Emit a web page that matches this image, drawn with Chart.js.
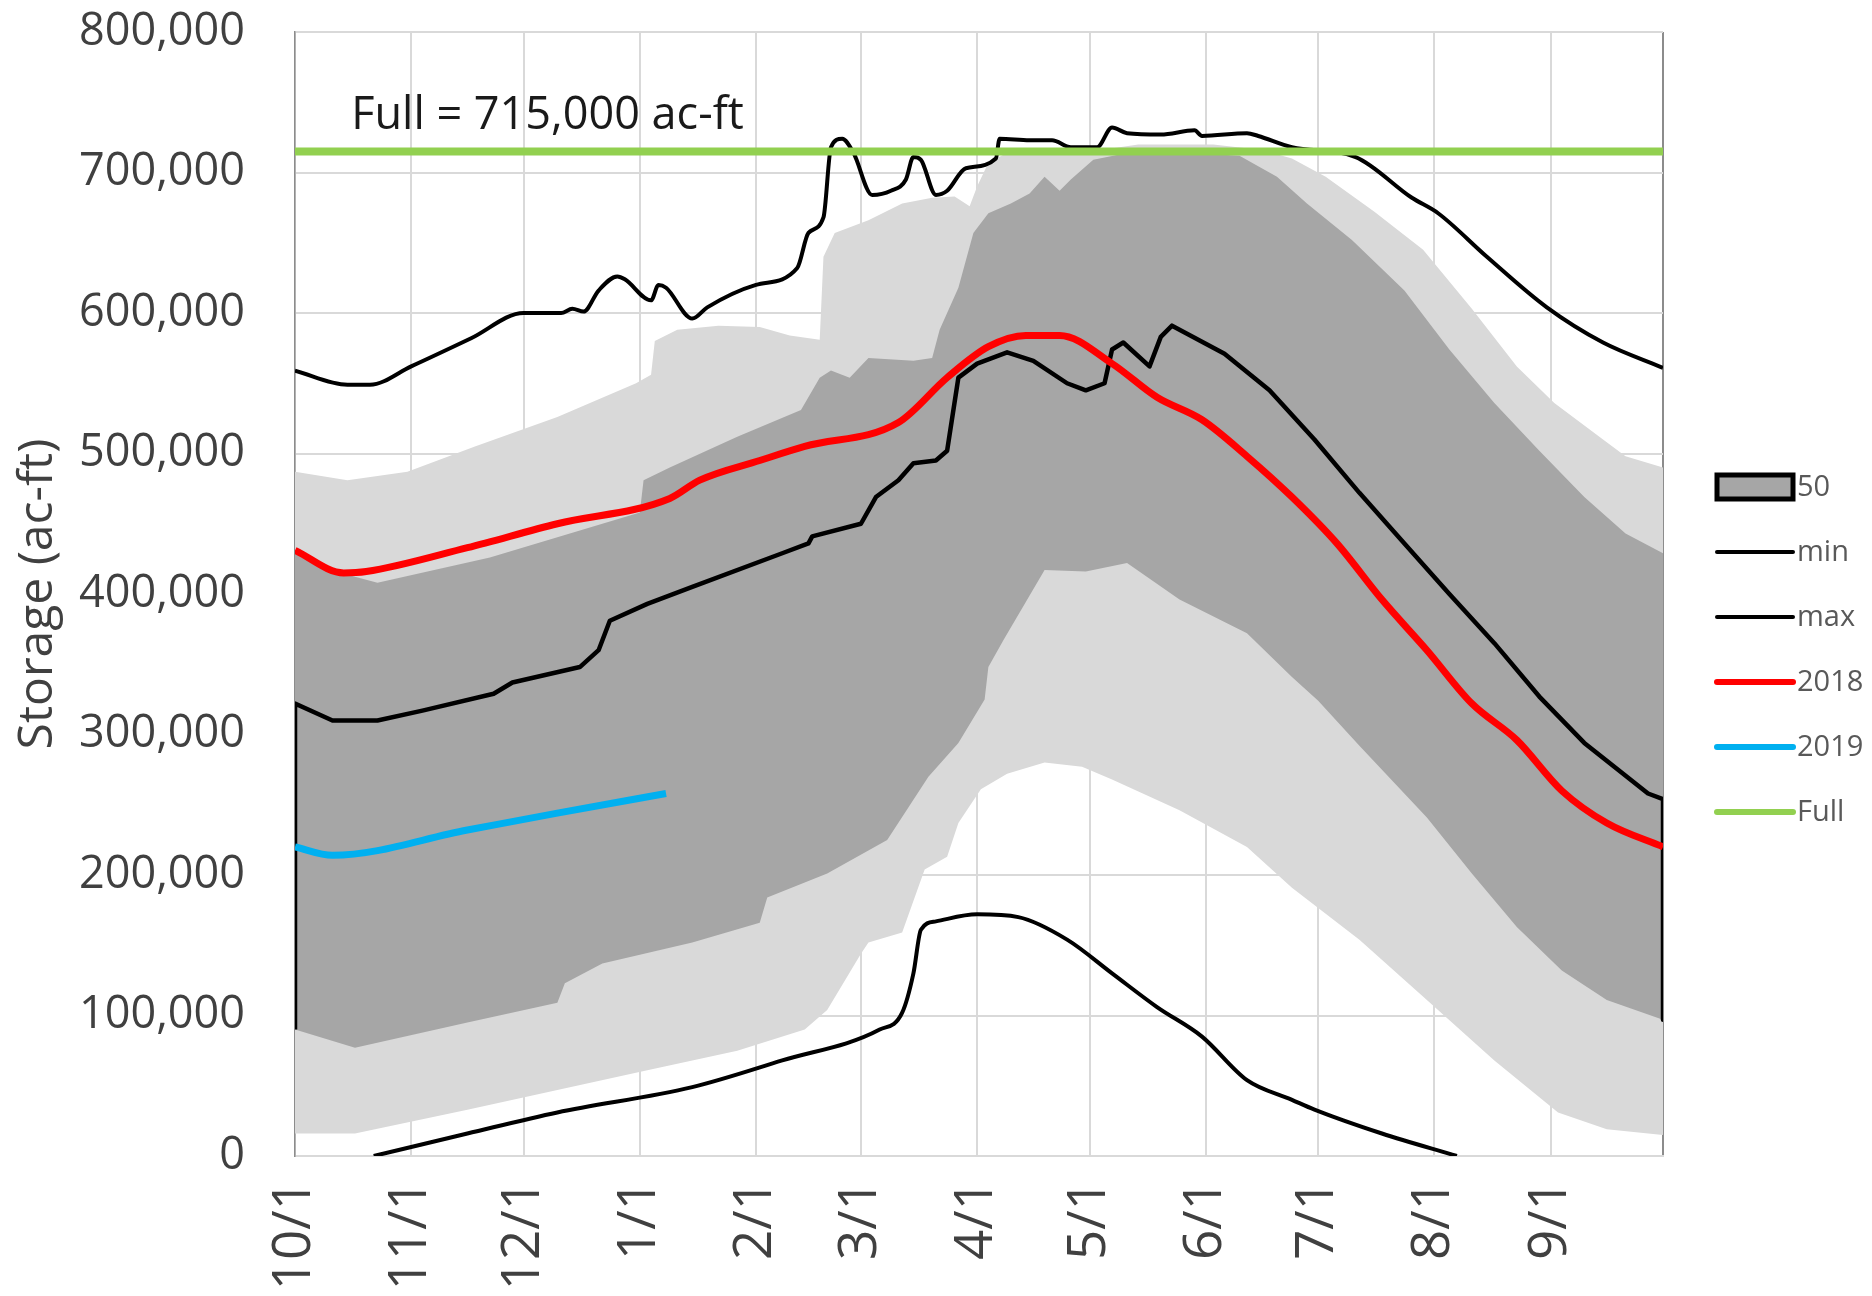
<!DOCTYPE html>
<html>
<head>
<meta charset="utf-8">
<title>Storage (ac-ft)</title>
<script src="https://cdn.jsdelivr.net/npm/chart.js@4.4.1/dist/chart.umd.min.js"></script>
<style>
  html, body { margin: 0; padding: 0; background: #fff; }
  canvas { display: block; }
</style>
</head>
<body>
<canvas id="storageChart" width="1872" height="1296"></canvas>
<script>
// x = day of water year (0 = 10/1, 365 = end of 9/30)
const monthDays = [0, 31, 61, 92, 123, 151, 182, 212, 243, 273, 304, 335, 365];
const monthLabels = ['10/1', '11/1', '12/1', '1/1', '2/1', '3/1', '4/1', '5/1', '6/1', '7/1', '8/1', '9/1', ''];

const fullValue = 715000;

// outer (light) band
const p90Days = [0, 14, 30, 48, 70, 91, 95, 96, 102, 113, 124, 132, 140, 141, 144, 153, 162, 170, 176, 180, 182, 185, 190, 200, 215, 225, 245, 258, 266, 275, 288, 301, 314, 326, 336, 349, 355, 365];
const p90Vals = [487000, 481000, 487000, 505000, 526000, 550000, 556000, 580000, 588000, 591000, 590000, 584000, 581000, 640000, 657000, 666000, 678000, 682000, 683000, 676000, 690000, 707000, 714000, 716000, 716000, 720000, 720000, 716000, 710000, 697000, 672000, 645000, 603000, 562000, 536000, 510000, 498000, 490000];
const p10Days = [0, 16, 46, 70, 94, 118, 136, 142, 151, 153, 162, 168, 174, 177, 183, 190, 200, 210, 218, 236, 254, 266, 284, 302, 320, 337, 350, 365];
const p10Vals = [16000, 16000, 33000, 47000, 61000, 75000, 90000, 104000, 144000, 152000, 159000, 204000, 213000, 237000, 261000, 272000, 280000, 277000, 268000, 246000, 220000, 191000, 154000, 111000, 68000, 31000, 19000, 15000];

// inner (dark) band
const p75Days = [0, 8, 22, 52, 82, 92, 93, 100, 118, 135, 140, 143, 148, 153, 165, 170, 172, 177, 181, 185, 191, 196, 200, 204, 207, 213, 226, 252, 262, 270, 282, 296, 308, 320, 332, 344, 355, 365];
const p75Vals = [430000, 418000, 408000, 426000, 450000, 458000, 481000, 490000, 512000, 531000, 554000, 559000, 554000, 568000, 566000, 568000, 588000, 618000, 657000, 671000, 678000, 685000, 697000, 687000, 695000, 709000, 716000, 712000, 697000, 678000, 652000, 616000, 574000, 536000, 502000, 469000, 443000, 429000];
const p25Days = [0, 16, 46, 70, 72, 82, 106, 124, 126, 142, 158, 169, 177, 184, 185, 189, 200, 211, 222, 236, 254, 266, 273, 284, 302, 314, 326, 338, 350, 365];
const p25Vals = [90000, 77000, 95000, 109000, 123000, 137000, 152000, 166000, 184000, 201000, 225000, 270000, 294000, 325000, 348000, 367000, 417000, 416000, 422000, 396000, 372000, 341000, 324000, 292000, 241000, 201000, 163000, 132000, 111000, 97000];

// "50" series
const medDays = [0, 10, 22, 34, 53, 58, 76, 81, 84, 94, 106, 130, 137, 138, 151, 155, 161, 165, 171, 174, 177, 182, 190, 197, 206, 211, 216, 218, 221, 228, 231, 234, 248, 260, 272, 284, 296, 308, 320, 332, 344, 352, 361, 365];
const medVals = [322000, 310000, 310000, 317000, 329000, 337000, 348000, 360000, 381000, 393000, 405000, 429000, 436000, 441000, 450000, 469000, 481000, 493000, 495000, 502000, 554000, 564000, 572000, 566000, 550000, 545000, 550000, 574000, 579000, 562000, 583000, 591000, 571000, 545000, 510000, 472000, 436000, 400000, 365000, 327000, 294000, 277000, 258000, 254000];

const maxDays = [0, 14, 20, 31, 47, 61, 71, 74, 77, 81, 86, 88, 95, 97, 99, 106, 110, 123, 134, 137, 141, 143, 146, 149, 154, 159, 163, 165, 167, 171, 174, 179, 187, 188, 196, 202, 207, 214, 218, 222, 231, 240, 242, 254, 257, 266, 283, 298, 305, 318, 334, 349, 365];
const maxVals = [559000, 549000, 549000, 562000, 582000, 600000, 600000, 603000, 601000, 616000, 626000, 624000, 609000, 620000, 618000, 596000, 604000, 620000, 632000, 657000, 668000, 718000, 724000, 714000, 684000, 687000, 695000, 711000, 709000, 684000, 687000, 703000, 710000, 724000, 723000, 723000, 718000, 718000, 732000, 728000, 727000, 730000, 726000, 728000, 726000, 718000, 711000, 682000, 671000, 640000, 604000, 579000, 561000];

const minDays = [21, 46, 70, 106, 130, 156, 162, 165, 167, 171, 182, 193, 206, 218, 230, 242, 254, 266, 272, 290, 310];
const minVals = [0, 16000, 31000, 49000, 68000, 90000, 102000, 130000, 161000, 167000, 172000, 170000, 154000, 130000, 106000, 85000, 54000, 40000, 33000, 16000, 0];

const y2018Days = [0, 13, 19, 46, 70, 100, 108, 124, 136, 161, 174, 185, 195, 204, 218, 230, 242, 254, 266, 278, 290, 302, 314, 326, 338, 350, 365];
const y2018Vals = [431000, 415000, 416000, 433000, 450000, 468000, 481000, 495000, 505000, 522000, 554000, 576000, 584000, 584000, 564000, 540000, 524000, 498000, 469000, 436000, 396000, 360000, 322000, 296000, 260000, 237000, 220000];

const y2019Days = [0, 10, 46, 70, 99];
const y2019Vals = [220000, 214000, 232000, 244000, 258000];

const lightGray = '#d9d9d9';
const darkGray = '#a6a6a6';
const red = '#ff0000';
const blue = '#00b0f0';
const green = '#92d050';

const pts = (days, vals) => days.map((d, i) => ({ x: d, y: vals[i] }));

// the 50 outline closes down to the dark band at both ends
const medPoints = [{ x: p25Days[0], y: p25Vals[0] }]
  .concat(pts(medDays, medVals))
  .concat([{ x: p25Days[p25Days.length - 1], y: p25Vals[p25Vals.length - 1] }]);

const lineBase = { pointRadius: 0, tension: 0, fill: false, borderJoinStyle: 'round' };
const smooth = { cubicInterpolationMode: 'monotone' };

Chart.defaults.font.family = "'Open Sans', sans-serif";

const legendItems = [
  { label: '50', box: true },
  { label: 'min', color: '#000', width: 4 },
  { label: 'max', color: '#000', width: 4 },
  { label: '2018', color: red, width: 6 },
  { label: '2019', color: blue, width: 6 },
  { label: 'Full', color: green, width: 6 }
];

// legend down the right side + the Full label
const sideLegend = {
  id: 'sideLegend',
  afterDraw(chart) {
    const { ctx, chartArea } = chart;
    const x0 = chartArea.right + 54;
    const len = 76;
    ctx.save();
    ctx.font = "29px 'Open Sans', sans-serif";
    ctx.textBaseline = 'middle';
    legendItems.forEach((it, i) => {
      const y = 487 + i * 65;
      if (it.box) {
        ctx.fillStyle = darkGray;
        ctx.fillRect(x0, y - 12, len, 24);
        ctx.lineWidth = 5;
        ctx.strokeStyle = '#000';
        ctx.strokeRect(x0, y - 12, len, 24);
      } else {
        ctx.beginPath();
        ctx.lineWidth = it.width;
        ctx.lineCap = 'round';
        ctx.strokeStyle = it.color;
        ctx.moveTo(x0, y);
        ctx.lineTo(x0 + len, y);
        ctx.stroke();
      }
      ctx.fillStyle = '#595959';
      ctx.fillText(it.label, x0 + len + 4, y + 1);
    });
    ctx.restore();
  },
  afterDatasetsDraw(chart) {
    const { ctx, scales } = chart;
    ctx.save();
    ctx.font = "45px 'Open Sans', sans-serif";
    ctx.fillStyle = '#1a1a1a';
    ctx.textBaseline = 'middle';
    ctx.fillText('Full = 715,000 ac-ft', scales.x.getPixelForValue(15), scales.y.getPixelForValue(fullValue) - 35);
    ctx.restore();
  }
};

const ctx = document.getElementById('storageChart').getContext('2d');
const chart = new Chart(ctx, {
  type: 'line',
  data: {
    datasets: [
      { ...lineBase, label: 'Full', data: [{ x: 0, y: fullValue }, { x: 365, y: fullValue }], borderColor: green, borderWidth: 8, order: 0 },
      { ...lineBase, ...smooth, label: '2019', data: pts(y2019Days, y2019Vals), borderColor: blue, borderWidth: 7, order: 1 },
      { ...lineBase, ...smooth, label: '2018', data: pts(y2018Days, y2018Vals), borderColor: red, borderWidth: 7, order: 2 },
      { ...lineBase, ...smooth, label: 'max', data: pts(maxDays, maxVals), borderColor: '#000', borderWidth: 4, order: 3 },
      { ...lineBase, ...smooth, label: 'min', data: pts(minDays, minVals), borderColor: '#000', borderWidth: 4, order: 4 },
      { ...lineBase, label: '50', data: medPoints, borderColor: '#000', borderWidth: 4.5, order: 5 },
      { ...lineBase, label: 'p75', data: pts(p75Days, p75Vals), borderWidth: 0, borderColor: darkGray, backgroundColor: darkGray, fill: 7, order: 6 },
      { ...lineBase, label: 'p25', data: pts(p25Days, p25Vals), borderWidth: 0, borderColor: darkGray, order: 7 },
      { ...lineBase, label: 'p90', data: pts(p90Days, p90Vals), borderWidth: 0, borderColor: lightGray, backgroundColor: lightGray, fill: 9, order: 8 },
      { ...lineBase, label: 'p10', data: pts(p10Days, p10Vals), borderWidth: 0, borderColor: lightGray, order: 9 }
    ]
  },
  options: {
    responsive: false,
    animation: false,
    layout: { padding: { left: 0, right: 209, top: 32, bottom: 0 } },
    plugins: {
      legend: { display: false },
      tooltip: { enabled: false }
    },
    scales: {
      x: {
        type: 'linear',
        min: 0,
        max: 365,
        afterBuildTicks: (scale) => { scale.ticks = monthDays.map(v => ({ value: v })); },
        afterFit: (scale) => {
          scale.height = 140;
          scale.paddingLeft = 0;
          scale.paddingRight = 0;
        },
        grid: {
          color: (c) => (c.index === monthDays.length - 1 ? '#8c8c8c' : lightGray),
          lineWidth: 2,
          drawTicks: false
        },
        border: { display: true, color: lightGray, width: 2 },
        ticks: {
          autoSkip: false,
          minRotation: 90,
          maxRotation: 90,
          padding: 24,
          color: '#404040',
          font: { size: 53 },
          callback: (value, index) => monthLabels[index]
        }
      },
      y: {
        min: 0,
        max: 800000,
        afterFit: (scale) => {
          scale.width = 295;
          scale.paddingTop = 0;
          scale.paddingBottom = 0;
        },
        grid: { color: lightGray, lineWidth: 2, drawTicks: false },
        border: { display: true, color: '#8c8c8c', width: 1.5 },
        ticks: {
          stepSize: 100000,
          padding: 50,
          color: '#404040',
          font: { size: 45 },
          callback: (value) => value.toLocaleString('en-US')
        },
        title: {
          display: true,
          text: 'Storage (ac-ft)',
          color: '#404040',
          font: { size: 48 },
          padding: { top: 10, bottom: 0 }
        }
      }
    }
  },
  plugins: [sideLegend]
});
</script>
</body>
</html>
